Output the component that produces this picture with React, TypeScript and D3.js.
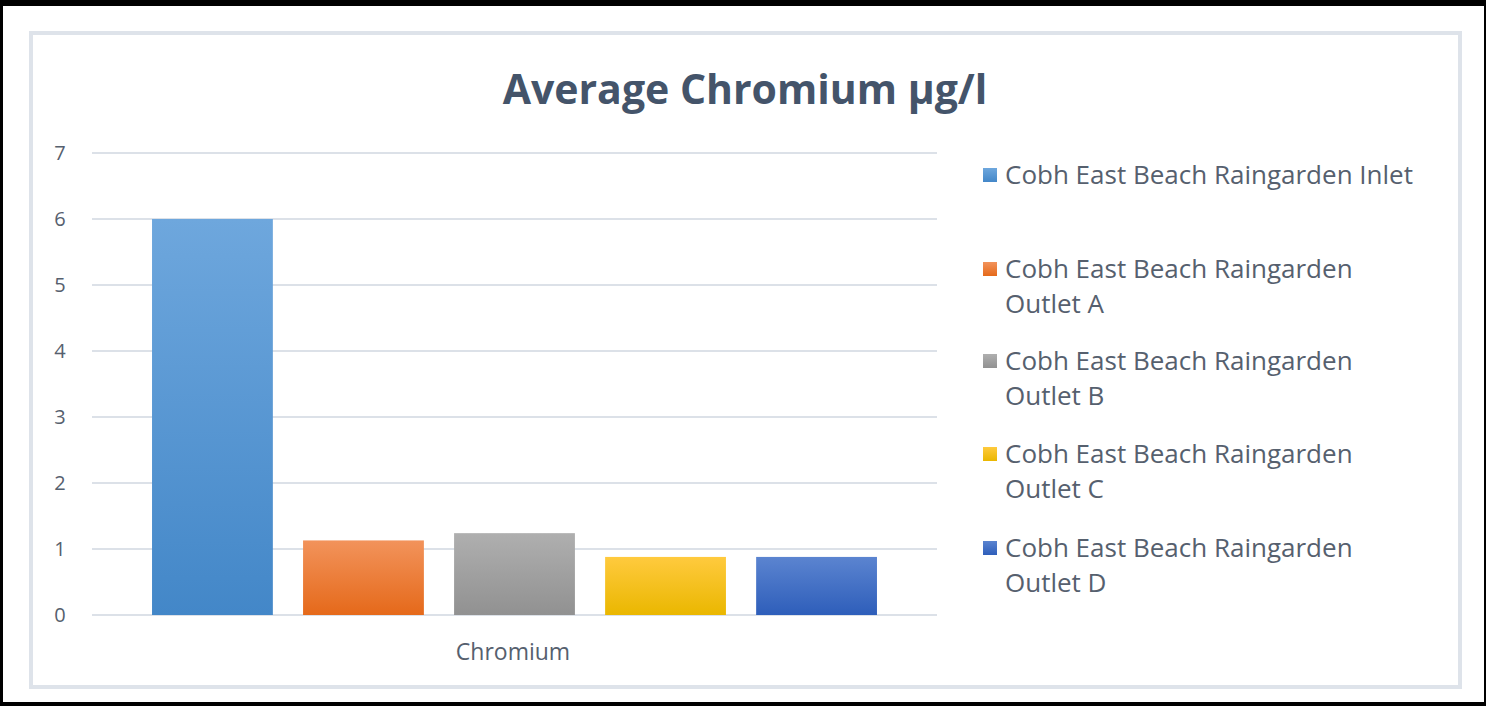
import React from "react";
import * as d3 from "d3";

const title = "Average Chromium µg/l";
const category = "Chromium";
const seriesNames = [
  "Cobh East Beach Raingarden Inlet",
  "Cobh East Beach Raingarden Outlet A",
  "Cobh East Beach Raingarden Outlet B",
  "Cobh East Beach Raingarden Outlet C",
  "Cobh East Beach Raingarden Outlet D",
];
const seriesValues = [6.0, 1.13, 1.24, 0.88, 0.88];
const legendLines = [
  ["Cobh East Beach Raingarden Inlet"],
  ["Cobh East Beach Raingarden", "Outlet A"],
  ["Cobh East Beach Raingarden", "Outlet B"],
  ["Cobh East Beach Raingarden", "Outlet C"],
  ["Cobh East Beach Raingarden", "Outlet D"],
];
const yTicks = [0, 1, 2, 3, 4, 5, 6, 7];
const colorsTop = ["#6EA7DD", "#F2935B", "#AFAFAF", "#FFCA3E", "#5B84D0"];
const colorsBottom = ["#4387C8", "#E5691A", "#919191", "#EAB700", "#2E5EBA"];

const W = 1486;
const H = 706;
const FONT = "'Open Sans', sans-serif";
const TEXT = "#56606E";

export default function App() {
  const plotLeft = 92;
  const plotRight = 937;
  const y = d3.scaleLinear().domain([0, 7]).range([615, 153]);
  const xCat = d3
    .scaleBand()
    .domain([category])
    .range([plotLeft, plotRight])
    .paddingInner(0)
    .paddingOuter(0.0828);
  const groupX = xCat(category)!;
  const xSeries = d3
    .scaleBand()
    .domain(seriesNames)
    .range([groupX, groupX + xCat.bandwidth()])
    .paddingInner(0.2)
    .paddingOuter(0);

  const legendY = [175, 269, 361, 454, 548];

  return (
    <svg
      width={W}
      height={H}
      style={{ position: "absolute", left: 0, top: 0, display: "block" }}
    >
      <defs>
        {seriesNames.map((s, i) => (
          <linearGradient key={s} id={`g${i}`} x1="0" y1="0" x2="0" y2="1">
            <stop offset="0%" stopColor={colorsTop[i]} />
            <stop offset="100%" stopColor={colorsBottom[i]} />
          </linearGradient>
        ))}
      </defs>
      <rect x={0} y={0} width={W} height={H} fill="#000" />
      <rect x={3} y={6} width={1481} height={696} fill="#fff" />
      <rect x={31} y={33} width={1429} height={654} fill="#fff" stroke="#DEE3EA" strokeWidth={4} />
      <text
        x={745}
        y={104}
        textAnchor="middle"
        fontFamily={FONT}
        fontWeight={700}
        fontSize={41}
        fill="#44546A"
      >
        {title}
      </text>
      {yTicks.map((t) => (
        <g key={t}>
          <line x1={plotLeft} x2={plotRight} y1={y(t)} y2={y(t)} stroke="#DCE1E8" strokeWidth={2} />
          <text
            x={60}
            y={y(t)}
            dy="0.35em"
            textAnchor="middle"
            fontFamily={FONT}
            fontSize={20}
            fill={TEXT}
          >
            {t}
          </text>
        </g>
      ))}
      {seriesNames.map((s, i) => (
        <rect
          key={s}
          x={xSeries(s)}
          y={y(seriesValues[i])}
          width={xSeries.bandwidth()}
          height={y(0) - y(seriesValues[i])}
          fill={`url(#g${i})`}
        />
      ))}
      <text
        x={513}
        y={652}
        dy="0.35em"
        textAnchor="middle"
        fontFamily={FONT}
        fontSize={23}
        fill={TEXT}
      >
        {category}
      </text>
      {legendLines.map((lines, i) => (
        <g key={i}>
          <rect x={983} y={legendY[i] - 7} width={14} height={14} fill={`url(#g${i})`} />
          {lines.map((ln, j) => (
            <text
              key={j}
              x={1005}
              y={legendY[i] + j * 35}
              dy="0.35em"
              fontFamily={FONT}
              fontSize={26}
              fill={TEXT}
            >
              {ln}
            </text>
          ))}
        </g>
      ))}
    </svg>
  );
}
